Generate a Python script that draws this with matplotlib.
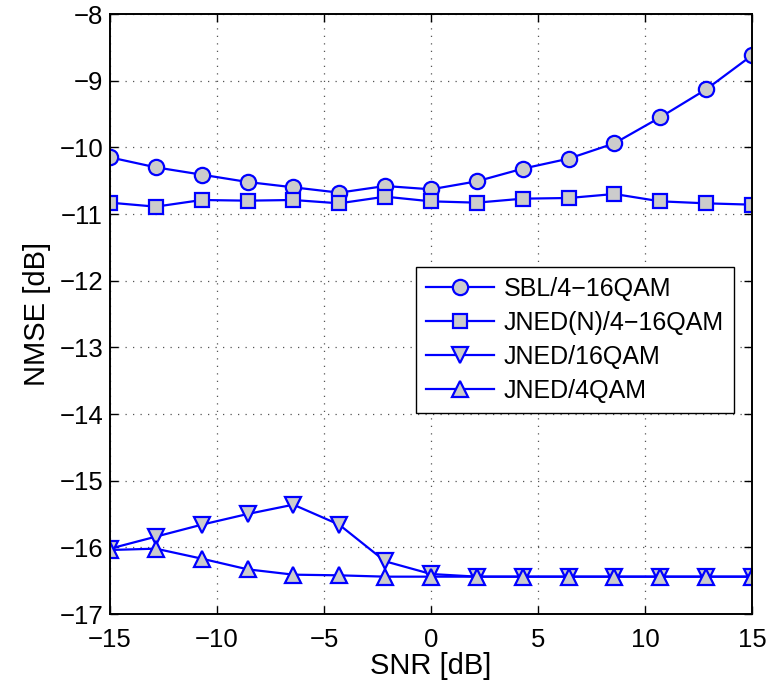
import numpy as np
import matplotlib
matplotlib.use('Agg')
import matplotlib.pyplot as plt

plt.rcParams['font.family'] = ['Liberation Sans', 'DejaVu Sans']

# SNR grid (15 points between -15 and 15 dB)
snr = [-15, -12.86, -10.71, -8.57, -6.43, -4.29, -2.14, 0,
       2.14, 4.29, 6.43, 8.57, 10.71, 12.86, 15]

sbl_4_16qam = [-10.15, -10.30, -10.41, -10.52, -10.60, -10.68, -10.58, -10.63,
               -10.51, -10.32, -10.17, -9.94, -9.55, -9.13, -8.62]
jned_n_4_16qam = [-10.83, -10.89, -10.79, -10.80, -10.79, -10.84, -10.74, -10.81,
                  -10.83, -10.77, -10.76, -10.70, -10.81, -10.84, -10.86]
jned_16qam = [-16.02, -15.84, -15.66, -15.50, -15.36, -15.66, -16.21, -16.40,
              -16.44, -16.44, -16.44, -16.44, -16.44, -16.44, -16.44]
jned_4qam = [-16.04, -16.02, -16.17, -16.33, -16.41, -16.42, -16.44, -16.44,
             -16.44, -16.44, -16.44, -16.44, -16.44, -16.44, -16.44]

labels = ['SBL/4\u221216QAM', 'JNED(N)/4\u221216QAM', 'JNED/16QAM', 'JNED/4QAM']
series = [sbl_4_16qam, jned_n_4_16qam, jned_16qam, jned_4qam]
markers = ['o', 's', 'v', '^']
msizes = [11, 9.5, 12, 12]

fig = plt.figure(figsize=(7.66, 6.85), dpi=100)
ax = fig.add_axes([110 / 766, 1 - 614 / 685, 642 / 766, 600 / 685])

for vals, mk, ms, lab in zip(series, markers, msizes, labels):
    ax.plot(snr, vals, color='#0000ff', linewidth=1.6, marker=mk, markersize=ms,
            markerfacecolor='#cccccc', markeredgecolor='#0000ff',
            markeredgewidth=1.6, label=lab)

ax.set_xlim(-15, 15)
ax.set_ylim(-17, -8)
ax.set_xticks(np.arange(-15, 16, 5))
ax.set_yticks(np.arange(-17, -7, 1))
ax.set_xticklabels([str(t).replace('-', '\u2212') for t in range(-15, 16, 5)])
ax.set_yticklabels([str(t).replace('-', '\u2212') for t in range(-17, -7)])

ax.grid(True, linestyle=(0, (1, 5)), color='#555555', linewidth=0.9)
ax.tick_params(direction='in', length=6, width=1, labelsize=18.5,
               top=True, right=True)
ax.tick_params(axis='x', pad=10)
ax.tick_params(axis='y', pad=5)
for sp in ax.spines.values():
    sp.set_linewidth(1.4)

ax.set_xlabel('SNR [dB]', fontsize=21, labelpad=0)
ax.set_ylabel('NMSE [dB]', fontsize=21, labelpad=6)

leg = ax.legend(loc='upper left', bbox_to_anchor=(306 / 642, (614 - 267) / 600),
                fontsize=18, frameon=True, fancybox=False, edgecolor='black',
                framealpha=1, borderpad=0.4, labelspacing=0.4,
                handlelength=2.7, handletextpad=0.4, borderaxespad=0)
leg.get_frame().set_linewidth(1.0)

fig.savefig('out.png', dpi=100)
